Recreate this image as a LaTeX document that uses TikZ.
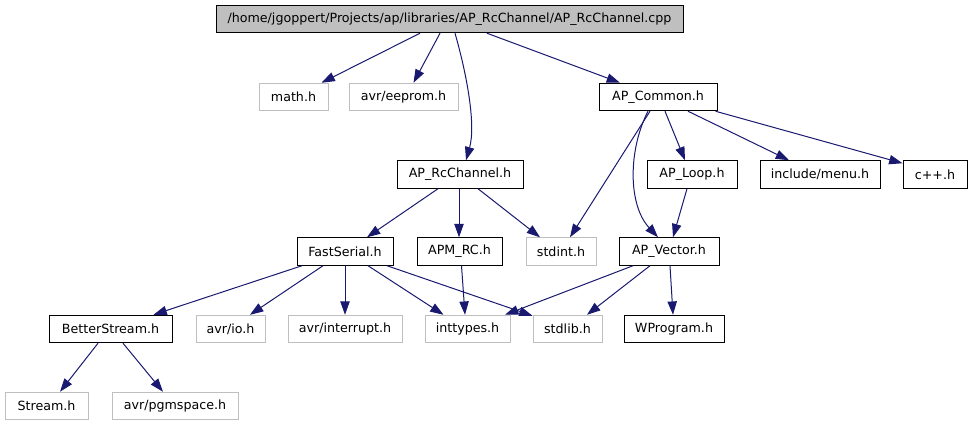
\documentclass[tikz,border=0pt]{standalone}
\usepackage{fontspec}
\setmainfont{DejaVu Sans}
\usetikzlibrary{arrows.meta,calc}
\definecolor{edgec}{HTML}{191970}
\definecolor{grayc}{HTML}{BFBFBF}
\begin{document}
\begin{tikzpicture}[x=0.75pt,y=-0.75pt,
  box/.style={draw=black, line width=0.75pt, minimum height=20.6pt, inner sep=0pt, font=\fontsize{9.5pt}{11pt}\selectfont, text=black},
  gbox/.style={box, draw=grayc},
  w/.style={minimum width=#1*0.75pt},
  edge/.style={draw=edgec, line width=0.75pt, -{Triangle[length=10pt,width=7pt,fill=edgec]}}]
\useasboundingbox (0,0) rectangle (971,427);
% row 1
\node[box, w=467, fill=grayc] (cpp) at (449.5,19) {/home/jgoppert/Projects/ap/libraries/AP\_RcChannel/AP\_RcChannel.cpp};
% row 2
\node[gbox, w=69] (math) at (293.5,97) {math.h};
\node[gbox, w=109] (eeprom) at (403.5,97) {avr/eeprom.h};
\node[box, w=118] (common) at (658,97) {AP\_Common.h};
% row 3
\node[box, w=126] (rcch) at (460,174.5) {AP\_RcChannel.h};
\node[box, w=90] (loop) at (692,174.5) {AP\_Loop.h};
\node[box, w=120] (menu) at (820,174.5) {include/menu.h};
\node[box, w=64] (cpph) at (935,174.5) {c++.h};
% row 4
\node[box, w=96] (fs) at (345,251.5) {FastSerial.h};
\node[box, w=85] (apmrc) at (459.5,251.5) {APM\_RC.h};
\node[gbox, w=70] (stdint) at (561,251.5) {stdint.h};
\node[box, w=100] (vector) at (669,251.5) {AP\_Vector.h};
% row 5
\node[box, w=123] (better) at (110.5,329) {BetterStream.h};
\node[gbox, w=69] (avrio) at (230.5,329) {avr/io.h};
\node[gbox, w=114] (intr) at (345,329) {avr/interrupt.h};
\node[gbox, w=85] (inttypes) at (467.5,329) {inttypes.h};
\node[gbox, w=69] (stdlib) at (567.5,329) {stdlib.h};
\node[box, w=100] (wprog) at (674,329) {WProgram.h};
% row 6
\node[gbox, w=83] (stream) at (46.5,406) {Stream.h};
\node[gbox, w=126] (pgm) at (175,406) {avr/pgmspace.h};
% edges from cpp
\draw[edge] ($(cpp.south)+(-29.5,0)$) -- ($(math.north)+(28,0)$);
\draw[edge] ($(cpp.south)+(-9.5,0)$) -- ($(eeprom.north)+(10,0)$);
\draw[edge] ($(cpp.south)+(5.5,0)$) .. controls (467,75) and (476,125) .. ($(rcch.north)+(6,0)$);
\draw[edge] ($(cpp.south)+(37.5,0)$) -- ($(common.north)+(-38,0)$);
% edges from AP_Common
\draw[edge] ($(common.south)+(-8,0)$) -- ($(stdint.north)+(9,0)$);
\draw[edge] ($(common.south)+(-10,0)$) .. controls (628,150) and (628,205) .. ($(vector.north)+(-11,0)$);
\draw[edge] ($(common.south)+(7,0)$) -- ($(loop.north)+(-7,0)$);
\draw[edge] ($(common.south)+(30,0)$) -- ($(menu.north)+(-31,0)$);
\draw[edge] ($(common.south east)+(-2,0)$) -- ($(cpph.north west)+(0,3)$);
% AP_Loop
\draw[edge] ($(loop.south)+(-5,0)$) -- ($(vector.north)+(4,0)$);
% AP_RcChannel
\draw[edge] ($(rcch.south)+(-22,0)$) -- ($(fs.north)+(22,0)$);
\draw[edge] ($(rcch.south)+(-1,0)$) -- ($(apmrc.north)+(-0.5,0)$);
\draw[edge] ($(rcch.south)+(18,0)$) -- ($(stdint.north)+(-21,0)$);
% APM_RC
\draw[edge] ($(apmrc.south)+(2,0)$) -- ($(inttypes.north)+(-2.5,0)$);
% FastSerial
\draw[edge] ($(fs.south)+(-43,0)$) -- ($(better.north)+(43,0)$);
\draw[edge] ($(fs.south)+(-22,0)$) -- ($(avrio.north)+(19.5,0)$);
\draw[edge] (fs.south) -- (intr.north);
\draw[edge] ($(fs.south)+(23,0)$) -- ($(inttypes.north)+(-24,0)$);
\draw[edge] ($(fs.south)+(42,0)$) -- ($(stdlib.north west)+(0,1)$);
% AP_Vector
\draw[edge] ($(vector.south)+(-36,0)$) -- ($(inttypes.north)+(37.5,0)$);
\draw[edge] ($(vector.south)+(-19,0)$) -- ($(stdlib.north)+(19.5,0)$);
\draw[edge] ($(vector.south)+(1,0)$) -- ($(wprog.north)+(-1,0)$);
% BetterStream
\draw[edge] ($(better.south)+(-12.5,0)$) -- ($(stream.north)+(13.5,0)$);
\draw[edge] ($(better.south)+(12.5,0)$) -- ($(pgm.north)+(-12,0)$);
\end{tikzpicture}
\end{document}
